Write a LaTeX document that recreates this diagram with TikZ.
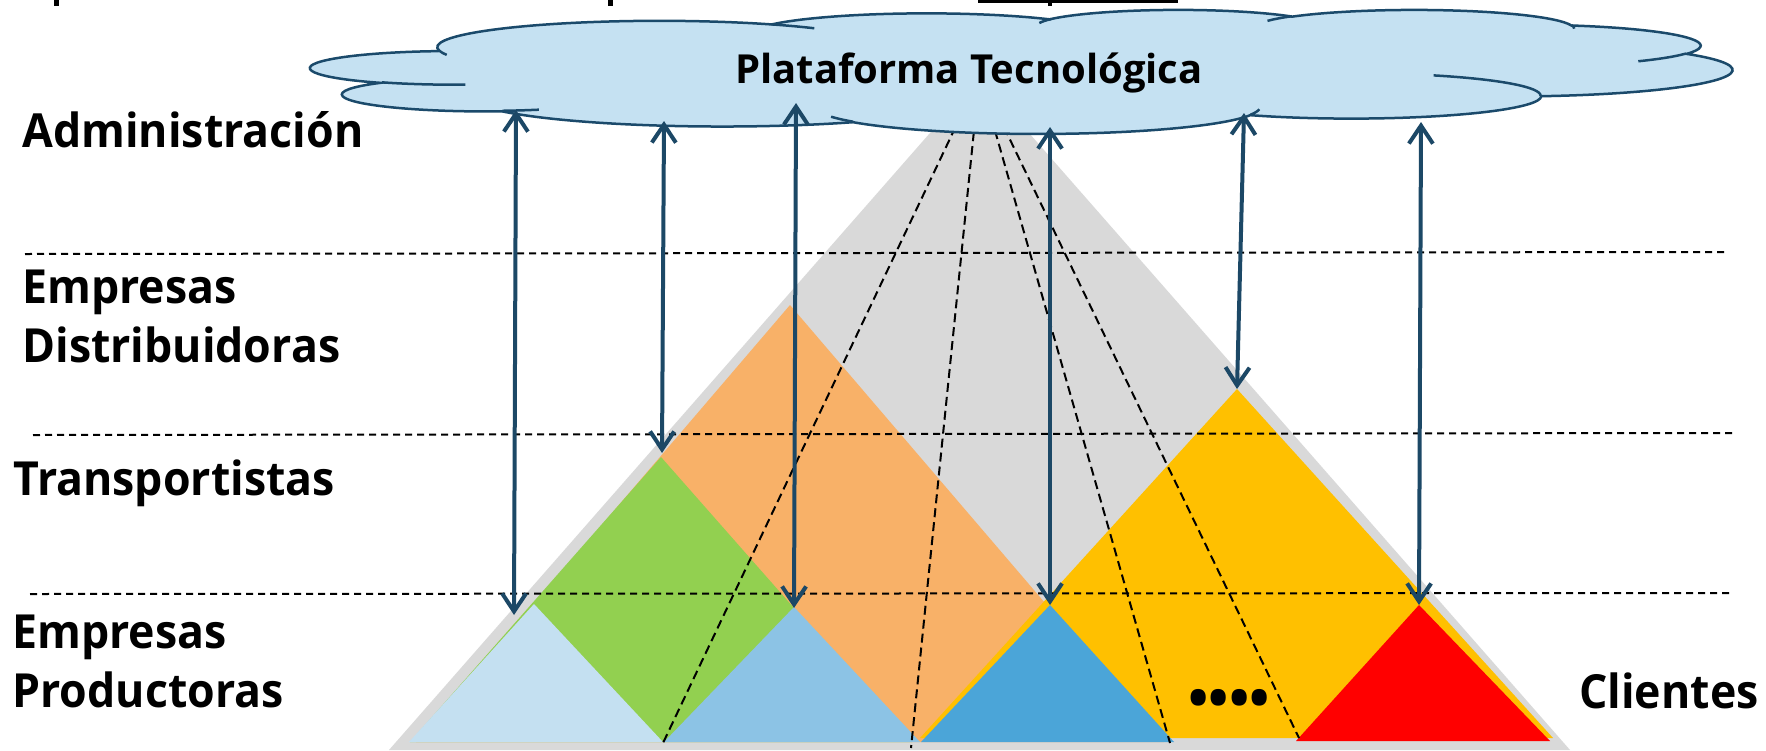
\documentclass[tikz,border=0pt]{standalone}
\usepackage{fontspec}
\setmainfont{Open Sans}
\newfontfamily\lblfont{Open Sans}[FakeStretch=0.95]
\usetikzlibrary{arrows.meta}
\definecolor{cgray}{HTML}{D9D9D9}
\definecolor{corange}{HTML}{F8B168}
\definecolor{cgreen}{HTML}{92D050}
\definecolor{cyellow}{HTML}{FFC000}
\definecolor{cblueA}{HTML}{C4E0F1}
\definecolor{cblueB}{HTML}{8CC3E5}
\definecolor{cblueC}{HTML}{4BA5D8}
\definecolor{cred}{HTML}{FF0000}
\definecolor{cloudfill}{HTML}{C5E1F2}
\definecolor{cloudline}{HTML}{1B4A6B}
\definecolor{arrowblue}{HTML}{1C4866}
\newcommand\cldprep[5]{%
  \pgfmathsetmacro\cldtA{atan2(sin(#4)*#2,cos(#4)*#3)}%
  \pgfmathsetmacro\cldtB{atan2(sin(#4+#5)*#2,cos(#4+#5)*#3)}%
  \pgfmathsetmacro\cldtD{mod(\cldtB-\cldtA+900,360)-180}%
  \expandafter\xdef\csname cld#1s\endcsname{\cldtA}%
  \expandafter\xdef\csname cld#1d\endcsname{\cldtD}%
}
\begin{document}
\begin{tikzpicture}[x=0.5pt,y=-0.5pt,
  hdash/.style={black, line width=1pt, dash pattern=on 3.5pt off 2.5pt},
  fdash/.style={black, line width=1pt, dash pattern=on 4.5pt off 2.5pt},
  link/.style={draw=arrowblue, line width=2pt,
     {Straight Barb[length=9pt,width=12pt]}-{Straight Barb[length=9pt,width=12pt]}},
  lbl/.style={anchor=base west, inner sep=0pt, font=\lblfont\bfseries\fontsize{23.5}{28}\selectfont},
  cloudshape/.style={fill=cloudfill, draw=cloudline, line width=1.25pt},
  cloudin/.style={draw=cloudline, line width=1.25pt},
]
\useasboundingbox[fill=white] (0,0) rectangle (1766,750);

% cut-off fragments at the top edge
\fill (54,0) rectangle (59,6);
\fill (608,0) rectangle (613,6);
\fill (978,0) rectangle (1178,3);
\fill (1048,0) rectangle (1052,6);

% pyramid
\coordinate (apex) at (979.5,76.5);
\fill[cgray] (apex) -- (389,750) -- (1570,750) -- cycle;
\fill[corange] (790,305) -- (416,742) -- (1164,742) -- cycle;
\fill[cgreen] (661,457) -- (410,742) -- (912,742) -- cycle;
\fill[cyellow] (1237,389) -- (920,738) -- (1553,738) -- cycle;
\fill[cblueA] (534,604) -- (409,742) -- (663,742) -- cycle;
\fill[cblueB] (794,607) -- (664,742) -- (920,742) -- cycle;
\fill[cblueC] (1050,605) -- (921,742) -- (1174,742) -- cycle;
\fill[cred] (1419,605) -- (1296,741) -- (1550,741) -- cycle;

% fan of dashed lines
\coordinate (f1) at (663,743);
\coordinate (f2) at (911,748);
\coordinate (f3) at (1170,743);
\coordinate (f4) at (1299,738);
\foreach \f in {f1,f2,f3,f4} \draw[fdash] (apex) -- (\f);

% horizontal dashed lines
\coordinate (h1l) at (25,254);  \coordinate (h1r) at (1727,252);
\coordinate (h2l) at (33,435);  \coordinate (h2r) at (1735,433);
\coordinate (h3l) at (30,594);  \coordinate (h3r) at (1733,593);
\draw[hdash] (h1l) -- (h1r);
\draw[hdash] (h2l) -- (h2r);
\draw[hdash] (h3l) -- (h3r);

% cloud (PowerPoint cloud geometry)
\cldprep{a}{6.753}{9.19}{-190.4875}{123.7805}
\cldprep{b}{5.333}{7.267}{-144.1024}{89.9452}
\cldprep{c}{4.365}{5.945}{-145.8079}{99.7230}
\cldprep{d}{4.857}{6.595}{-130.9861}{117.2417}
\cldprep{e}{5.333}{7.273}{-78.7089}{109.0269}
\cldprep{f}{6.775}{9.22}{-46.2673}{130.2690}
\cldprep{g}{5.785}{7.867}{0.6250}{114.0333}
\cldprep{h}{6.752}{9.215}{22.4516}{115.1726}
\cldprep{i}{7.72}{10.543}{66.2426}{75.7110}
\cldprep{j}{4.36}{5.918}{-274.9421}{146.7356}
\cldprep{k}{4.345}{5.945}{-246.8285}{152.5189}
\cldprep{sa}{4.345}{5.945}{86.7420}{26.4295}
\cldprep{sb}{4.36}{5.918}{73.6105}{11.4475}
\cldprep{sc}{6.752}{9.215}{137.6242}{14.0811}
\cldprep{sd}{6.752}{9.215}{6.4533}{15.9984}
\cldprep{se}{5.785}{7.867}{-70.2924}{70.9174}
\cldprep{sf}{5.333}{7.273}{30.3180}{27.7515}
\cldprep{sg}{4.857}{6.595}{-13.7443}{14.8589}
\cldprep{sh}{4.857}{6.595}{-149.1815}{18.1954}
\cldprep{si}{4.365}{5.945}{-163.4943}{17.6864}
\cldprep{sj}{6.753}{9.19}{-66.7070}{12.3194}
\cldprep{sk}{6.753}{9.19}{157.6544}{11.8582}
\begin{scope}[shift={(311,9.5)}]
\begin{scope}[x=16.447pt, y=-1.4352pt]
\draw[cloudshape] (3.9,14.37)
  arc[start angle=\cldas, delta angle=\cldad, x radius=6.753, y radius=9.19]
  arc[start angle=\cldbs, delta angle=\cldbd, x radius=5.333, y radius=7.267]
  arc[start angle=\cldcs, delta angle=\cldcd, x radius=4.365, y radius=5.945]
  arc[start angle=\cldds, delta angle=\clddd, x radius=4.857, y radius=6.595]
  arc[start angle=\cldes, delta angle=\clded, x radius=5.333, y radius=7.273]
  arc[start angle=\cldfs, delta angle=\cldfd, x radius=6.775, y radius=9.22]
  arc[start angle=\cldgs, delta angle=\cldgd, x radius=5.785, y radius=7.867]
  arc[start angle=\cldhs, delta angle=\cldhd, x radius=6.752, y radius=9.215]
  arc[start angle=\cldis, delta angle=\cldid, x radius=7.72, y radius=10.543]
  arc[start angle=\cldjs, delta angle=\cldjd, x radius=4.36, y radius=5.918]
  arc[start angle=\cldks, delta angle=\cldkd, x radius=4.345, y radius=5.945]
  -- cycle;
\draw[cloudin] (4.693,26.177) arc[start angle=\cldsas, delta angle=\cldsad, x radius=4.345, y radius=5.945];
\draw[cloudin] (6.928,34.899) arc[start angle=\cldsbs, delta angle=\cldsbd, x radius=4.36, y radius=5.918];
\draw[cloudin] (16.478,39.09) arc[start angle=\cldscs, delta angle=\cldscd, x radius=6.752, y radius=9.215];
\draw[cloudin] (28.827,34.751) arc[start angle=\cldsds, delta angle=\cldsdd, x radius=6.752, y radius=9.215];
\draw[cloudin] (34.129,22.954) arc[start angle=\cldses, delta angle=\cldsed, x radius=5.785, y radius=7.867];
\draw[cloudin] (41.798,15.354) arc[start angle=\cldsfs, delta angle=\cldsfd, x radius=5.333, y radius=7.273];
\draw[cloudin] (38.324,5.426) arc[start angle=\cldsgs, delta angle=\cldsgd, x radius=4.857, y radius=6.595];
\draw[cloudin] (29.078,3.952) arc[start angle=\cldshs, delta angle=\cldshd, x radius=4.857, y radius=6.595];
\draw[cloudin] (22.141,4.72) arc[start angle=\cldsis, delta angle=\cldsid, x radius=4.365, y radius=5.945];
\draw[cloudin] (14.0,5.192) arc[start angle=\cldsjs, delta angle=\cldsjd, x radius=6.753, y radius=9.19];
\draw[cloudin] (4.127,15.789) arc[start angle=\cldsks, delta angle=\cldskd, x radius=6.753, y radius=9.19];
\end{scope}
\end{scope}
\node[anchor=base, inner sep=0pt, font=\bfseries\fontsize{20}{24}\selectfont] (plat) at (969,83) {Plataforma Tecnológica};

% arrows
\coordinate (t1) at (516,110);  \coordinate (b1) at (514,615);
\coordinate (t2) at (664,121);  \coordinate (b2) at (662,453);
\coordinate (t3) at (796,103);  \coordinate (b3) at (794,608);
\coordinate (t4) at (1050,127); \coordinate (b4) at (1050,605);
\coordinate (t5) at (1244,113); \coordinate (b5) at (1237,389);
\coordinate (t6) at (1421,122); \coordinate (b6) at (1419,605);
\foreach \i in {1,...,6} \draw[link] (t\i) -- (b\i);

% labels
\node[lbl] (adm) at (22,147) {Administración};
\node[lbl] (dist1) at (22,303) {Empresas};
\node[lbl] (dist2) at (22,362) {Distribuidoras};
\node[lbl] (trans) at (13,495) {Transportistas};
\node[lbl] (prod1) at (12,648) {Empresas};
\node[lbl] (prod2) at (12,707) {Productoras};
\node[lbl, anchor=base east] (cli) at (1759,708) {Clientes};
\node[inner sep=0pt, font=\bfseries\fontsize{27}{32}\selectfont] (dots) at (1229,703) {••••};
\end{tikzpicture}
\end{document}
